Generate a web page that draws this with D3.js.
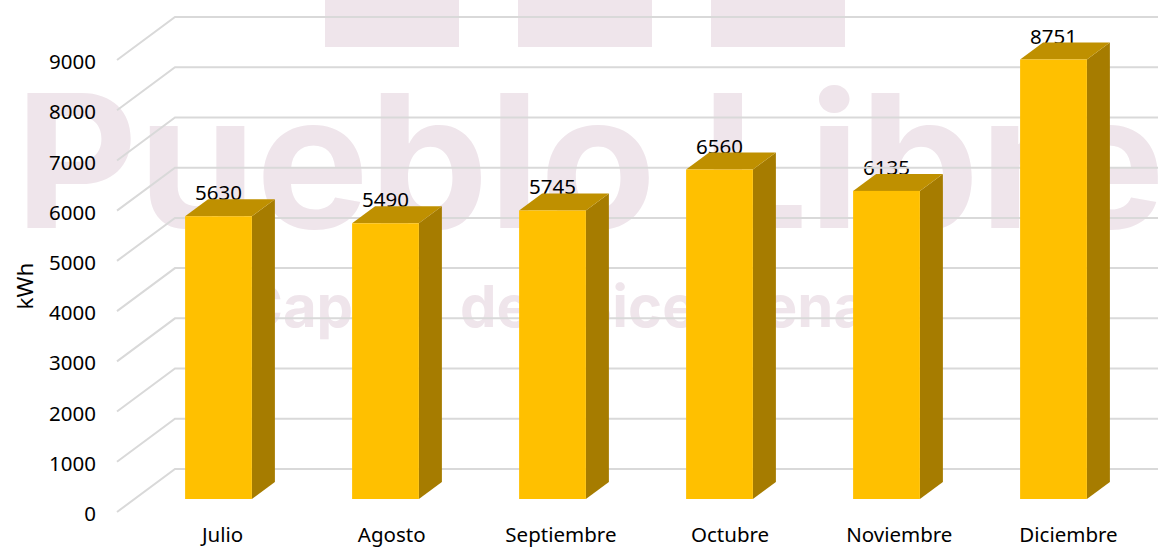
<!DOCTYPE html>
<html>
<head>
<meta charset="utf-8">
<script src="https://cdn.jsdelivr.net/npm/d3@7"></script>
<style>
  body { margin: 0; background: #fff; }
  svg { display: block; }
  text { font-family: "Noto Sans", sans-serif; fill: #000; }
  .marca text { font-family: Inter, sans-serif; }
</style>
</head>
<body>
<div id="grafico"></div>
<script>
// Datos del gráfico
const meses = ["Julio", "Agosto", "Septiembre", "Octubre", "Noviembre", "Diciembre"];
const consumo = [5630, 5490, 5745, 6560, 6135, 8751];
const ticksY = [0, 1000, 2000, 3000, 4000, 5000, 6000, 7000, 8000, 9000];

const width = 1158;
const height = 547;
const fuente = 20.5;

const svg = d3.select("#grafico")
  .append("svg")
    .attr("width", width)
    .attr("height", height);

// Marca de agua de fondo
const fondo = svg.append("g").attr("class", "marca");
fondo.selectAll("rect")
  .data([325, 518, 711])
  .enter()
  .append("rect")
    .attr("x", d => d)
    .attr("y", 0)
    .attr("width", 134)
    .attr("height", 47)
    .attr("fill", "#EFE5EB");
fondo.append("text")
  .attr("x", 15)
  .attr("y", 228)
  .attr("font-size", 186)
  .attr("font-weight", 700)
  .attr("textLength", 1150)
  .attr("lengthAdjust", "spacingAndGlyphs")
  .style("fill", "#EFE5EB")
  .text("Pueblo Libre");

// Subtitulo por trozos, casi todo queda detras de las barras
const subtitulo = fondo.append("text")
  .attr("y", 327)
  .attr("font-size", 58)
  .attr("font-weight", 700)
  .style("fill", "#EFE5EB");
subtitulo.append("tspan").attr("x", 240).text("Capital");
subtitulo.append("tspan").attr("x", 460).text("del");
subtitulo.append("tspan").attr("x", 574).text("Bice");
subtitulo.append("tspan").attr("x", 706).text("ntena");
subtitulo.append("tspan").attr("x", 860).text("rio");

// Escalas: plano frontal del eje, y cara frontal de las barras
const yFrente = d3.scaleLinear().domain([0, 9000]).range([512, 60]);
const yBarra = d3.scaleLinear().domain([0, 9000]).range([499, 47]);
const xBarra = d3.scaleBand()
  .domain(meses)
  .range([135, 1137])
  .paddingInner(0.6)
  .paddingOuter(0.3);
const xEtiqueta = d3.scalePoint()
  .domain(meses)
  .range([222, 1068]);

// Profundidad del piso y de las barras
const fondoX = 58, fondoY = 43;
const ladoX = 23, ladoY = 17;

// Valores: van antes de las guias y las barras, que los cortan como en el original
svg.append("g")
  .selectAll("text")
  .data(consumo)
  .enter()
  .append("text")
    .attr("x", (d, i) => xBarra(meses[i]) + xBarra.bandwidth() / 2)
    .attr("y", d => yBarra(d) - ladoY + 1)
    .attr("text-anchor", "middle")
    .attr("font-size", fuente)
    .text(d => d);

// Lineas de guia: diagonal en la pared lateral y horizontal en el fondo
svg.append("g")
  .selectAll("path")
  .data(ticksY)
  .enter()
  .append("path")
    .attr("d", d => {
      const y0 = yFrente(d);
      return "M117," + y0 + "L" + (117 + fondoX) + "," + (y0 - fondoY) + "H" + width;
    })
    .attr("fill", "none")
    .attr("stroke", "#D9D9D9")
    .attr("stroke-width", 2);

// Eje Y
const ejeY = svg.append("g")
  .attr("transform", "translate(96,2)")
  .call(d3.axisLeft(yFrente).tickValues(ticksY).tickFormat(d3.format("d")).tickSize(0).tickPadding(0));
ejeY.select(".domain").remove();
ejeY.selectAll("text").attr("font-size", fuente).attr("font-family", "'Noto Sans', sans-serif");

svg.append("text")
  .attr("transform", "translate(33,286) rotate(-90)")
  .attr("text-anchor", "middle")
  .attr("font-size", 22.5)
  .text("kWh");

// Eje X (solo etiquetas)
const ejeX = svg.append("g")
  .attr("transform", "translate(0,527)")
  .call(d3.axisBottom(xEtiqueta).tickSize(0).tickPadding(0));
ejeX.select(".domain").remove();
ejeX.selectAll("text").attr("font-size", fuente).attr("font-family", "'Noto Sans', sans-serif");

// Barras 3D
const barras = svg.append("g")
  .selectAll("g")
  .data(consumo)
  .enter()
  .append("g");

barras.append("path") // lateral
  .attr("d", (d, i) => {
    const x1 = xBarra(meses[i]) + xBarra.bandwidth();
    return "M" + x1 + "," + yBarra(d) + "l" + ladoX + "," + (-ladoY) +
      "V" + (yBarra(0) - ladoY) + "l" + (-ladoX) + "," + ladoY + "Z";
  })
  .attr("fill", "#A67C00");

barras.append("path") // tapa
  .attr("d", (d, i) => {
    const x0 = xBarra(meses[i]);
    return "M" + x0 + "," + yBarra(d) + "l" + ladoX + "," + (-ladoY) +
      "h" + xBarra.bandwidth() + "l" + (-ladoX) + "," + ladoY + "Z";
  })
  .attr("fill", "#BF9000");

barras.append("rect") // frente
  .attr("x", (d, i) => xBarra(meses[i]))
  .attr("y", d => yBarra(d))
  .attr("width", xBarra.bandwidth())
  .attr("height", d => yBarra(0) - yBarra(d))
  .attr("fill", "#FFC000");
</script>
</body>
</html>
